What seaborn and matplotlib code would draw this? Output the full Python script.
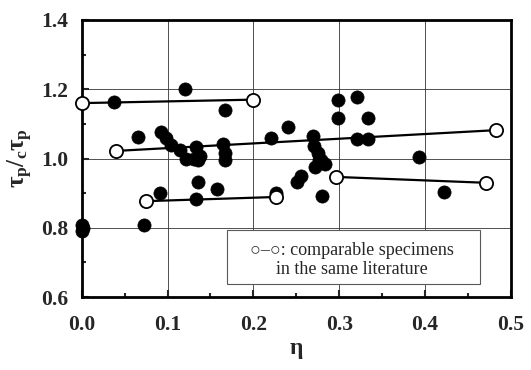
import numpy as np
import pandas as pd
import matplotlib
matplotlib.use("Agg")
import matplotlib.pyplot as plt
import seaborn as sns
from matplotlib.ticker import MultipleLocator, FormatStrFormatter
from matplotlib.patches import Rectangle

# filled points: all specimens
eta_all = [0.000, 0.000, 0.001, 0.038, 0.065, 0.073, 0.092, 0.098, 0.104, 0.114,
           0.121, 0.120, 0.133, 0.131, 0.138, 0.135, 0.165, 0.167, 0.167, 0.167,
           0.091, 0.136, 0.158, 0.133, 0.226, 0.221, 0.240, 0.270, 0.271, 0.275,
           0.279, 0.284, 0.272, 0.276, 0.255, 0.251, 0.280, 0.299, 0.321, 0.299,
           0.333, 0.321, 0.334, 0.393, 0.422]
ratio_all = [0.807, 0.790, 0.800, 1.164, 1.062, 0.809, 1.078, 1.058, 1.040, 1.024,
             1.000, 1.200, 1.034, 1.000, 1.008, 0.996, 1.042, 1.015, 0.997, 1.140,
             0.900, 0.931, 0.912, 0.882, 0.900, 1.058, 1.092, 1.065, 1.035, 1.015,
             0.996, 0.984, 0.975, 0.996, 0.950, 0.933, 0.892, 1.168, 1.178, 1.116,
             1.116, 1.055, 1.055, 1.005, 0.904]

# open points: comparable specimens, joined in pairs
pair_id = [1, 1, 2, 2, 3, 3, 4, 4]
eta_pair = [0.000, 0.200, 0.040, 0.483, 0.075, 0.226, 0.296, 0.471]
ratio_pair = [1.160, 1.170, 1.022, 1.082, 0.877, 0.889, 0.947, 0.930]

note_text = "○–○: comparable specimens\nin the same literature"

df_all = pd.DataFrame({"eta": eta_all, "ratio": ratio_all})
df_pair = pd.DataFrame({"pair": pair_id, "eta": eta_pair, "ratio": ratio_pair})

sns.set_style("ticks")
plt.rcParams["font.family"] = ["Liberation Serif", "DejaVu Serif"]
plt.rcParams["mathtext.fontset"] = "custom"
plt.rcParams["mathtext.rm"] = "Liberation Serif:bold"
plt.rcParams["mathtext.it"] = "Liberation Serif:bold"
plt.rcParams["mathtext.bf"] = "Liberation Serif:bold"

fig = plt.figure(figsize=(5.31, 3.70), dpi=100)
ax = fig.add_axes([0.154, 0.197, 0.808, 0.749])

# grid
for gx in [0.1, 0.2, 0.3, 0.4]:
    ax.axvline(gx, color="0.2", lw=0.6, zorder=0)
for gy in [0.8, 1.0, 1.2]:
    ax.axhline(gy, color="0.2", lw=0.6, zorder=0)

# pair lines
for pid, grp in df_pair.groupby("pair"):
    ax.plot(grp["eta"], grp["ratio"], color="black", lw=1.6, zorder=2)

sns.scatterplot(data=df_all, x="eta", y="ratio", ax=ax, s=90, color="black",
                edgecolor="black", linewidth=0.5, zorder=3, legend=False,
                clip_on=False)
sns.scatterplot(data=df_pair, x="eta", y="ratio", ax=ax, s=90, color="white",
                edgecolor="black", linewidth=1.3, zorder=4, legend=False,
                clip_on=False)

ax.set_xlim(0, 0.5)
ax.set_ylim(0.6, 1.4)
ax.xaxis.set_major_locator(MultipleLocator(0.1))
ax.xaxis.set_minor_locator(MultipleLocator(0.05))
ax.yaxis.set_major_locator(MultipleLocator(0.2))
ax.yaxis.set_minor_locator(MultipleLocator(0.1))
ax.xaxis.set_major_formatter(FormatStrFormatter("%.1f"))
ax.yaxis.set_major_formatter(FormatStrFormatter("%.1f"))
ax.tick_params(which="both", direction="in", width=1.5, top=False, right=False)
ax.tick_params(which="major", length=5, labelsize=15.5)
ax.tick_params(axis="x", which="major", pad=13)
ax.tick_params(axis="y", which="major", pad=10)
ax.tick_params(which="minor", length=3)
for lab in ax.get_xticklabels() + ax.get_yticklabels():
    lab.set_fontweight("bold")
for sp in ax.spines.values():
    sp.set_linewidth(2)
    sp.set_color("black")

ax.set_xlabel("η", fontsize=17, fontweight="bold", labelpad=2)
ax.set_ylabel(r"$\tau_p/{}_c\tau_p$", fontsize=18, labelpad=4)

# note box
ax.add_patch(Rectangle((0.169, 0.637), 0.295, 0.156, facecolor="white",
                       edgecolor="0.35", linewidth=0.8, zorder=5))
ax.text(0.315, 0.708, note_text, ha="center", va="center", fontsize=13,
        linespacing=1.15, zorder=6)

fig.savefig("out.png", dpi=100)
